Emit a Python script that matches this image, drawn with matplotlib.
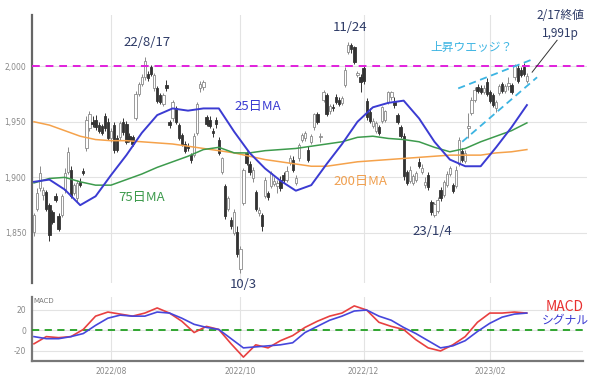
import matplotlib
matplotlib.use("Agg")
import matplotlib.pyplot as plt
import numpy as np
import pandas as pd

# Trading days (TSE), 2022/06/24 - 2023/02/17
holidays = ["2022-07-18", "2022-08-11", "2022-09-19", "2022-09-23", "2022-10-10",
            "2022-11-03", "2022-11-23", "2023-01-02", "2023-01-03", "2023-01-09"]
days = pd.bdate_range("2022-06-24", "2023-02-17")
days = days[~days.isin(pd.to_datetime(holidays))]

opens = [1851, 1872, 1890, 1884, 1887, 1875, 1869, 1883, 1865, 1866, 1889, 1905, 1907, 1886, 1881, 1896,
         1906, 1926, 1944, 1950, 1952, 1947, 1946, 1955, 1950, 1935, 1947, 1935, 1936, 1950, 1948, 1937,
         1936, 1953, 1975, 1984, 1990, 1993, 1999, 1980, 1980, 1974, 1966, 1983, 1950, 1953, 1962, 1947,
         1938, 1930, 1928, 1920, 1920, 1940, 1980, 1981, 1954, 1952, 1942, 1952, 1934, 1905, 1892, 1872,
         1862, 1850, 1851, 1818, 1877, 1922, 1912, 1899, 1887, 1868, 1866, 1883, 1886, 1892, 1894, 1892,
         1898, 1902, 1898, 1913, 1916, 1895, 1917, 1934, 1935, 1925, 1932, 1945, 1957, 1936, 1970, 1974,
         1960, 1963, 1972, 1970, 1967, 1983, 2013, 2019, 2017, 1992, 1990, 1998, 1969, 1959, 1946, 1942,
         1945, 1951, 1952, 1968, 1972, 1968, 1956, 1945, 1937, 1905, 1897, 1895, 1898, 1914, 1905, 1893,
         1902, 1878, 1866, 1870, 1889, 1884, 1893, 1903, 1893, 1892, 1912, 1924, 1915, 1944, 1958, 1970,
         1981, 1980, 1977, 1986, 1977, 1974, 1962, 1976, 1984, 1978, 1982, 1983, 1990, 1998, 1997, 1999,
         1987]
highs = [1868, 1890, 1910, 1891, 1889, 1877, 1871, 1886, 1868, 1885, 1908, 1927, 1910, 1895, 1898, 1899,
         1908, 1955, 1960, 1955, 1956, 1950, 1948, 1958, 1953, 1944, 1950, 1938, 1951, 1953, 1951, 1940,
         1938, 1978, 1986, 1993, 2008, 1996, 2001, 1994, 1982, 1976, 1976, 1988, 1952, 1970, 1964, 1949,
         1940, 1933, 1931, 1922, 1940, 1968, 1987, 1988, 1956, 1955, 1944, 1954, 1936, 1918, 1894, 1883,
         1864, 1872, 1856, 1838, 1908, 1924, 1915, 1909, 1889, 1873, 1868, 1900, 1888, 1906, 1900, 1898,
         1901, 1905, 1910, 1920, 1919, 1902, 1931, 1940, 1942, 1928, 1939, 1958, 1959, 1940, 1979, 1976,
         1966, 1966, 1975, 1972, 1973, 1999, 2022, 2021, 2018, 1996, 1993, 2000, 1971, 1962, 1953, 1951,
         1947, 1964, 1961, 1978, 1978, 1972, 1958, 1947, 1940, 1907, 1910, 1903, 1906, 1917, 1912, 1900,
         1905, 1880, 1878, 1882, 1891, 1898, 1906, 1910, 1895, 1910, 1936, 1926, 1925, 1958, 1972, 1981,
         1984, 1983, 1983, 1989, 1979, 1976, 1970, 1984, 1986, 1984, 1990, 1985, 2002, 2001, 1999, 2003,
         1994]
lows = [1847, 1870, 1888, 1880, 1870, 1843, 1858, 1878, 1852, 1864, 1886, 1903, 1881, 1884, 1878, 1891,
        1902, 1924, 1942, 1945, 1943, 1940, 1938, 1942, 1934, 1932, 1922, 1923, 1934, 1938, 1930, 1932,
        1928, 1952, 1973, 1982, 1988, 1987, 1991, 1978, 1967, 1966, 1964, 1978, 1944, 1951, 1948, 1934,
        1928, 1922, 1924, 1913, 1918, 1938, 1977, 1979, 1946, 1944, 1936, 1944, 1920, 1903, 1863, 1870,
        1854, 1848, 1828, 1814, 1875, 1911, 1902, 1896, 1870, 1865, 1852, 1881, 1880, 1890, 1892, 1886,
        1888, 1895, 1896, 1911, 1905, 1893, 1915, 1932, 1933, 1914, 1930, 1943, 1948, 1932, 1968, 1955,
        1957, 1960, 1966, 1964, 1965, 1981, 2011, 2012, 2002, 1990, 1977, 1984, 1952, 1949, 1944, 1940,
        1938, 1949, 1950, 1966, 1970, 1962, 1948, 1935, 1898, 1893, 1895, 1893, 1896, 1908, 1903, 1890,
        1889, 1866, 1864, 1868, 1879, 1882, 1891, 1901, 1886, 1890, 1910, 1914, 1913, 1935, 1956, 1968,
        1976, 1975, 1975, 1973, 1967, 1963, 1959, 1974, 1976, 1976, 1979, 1975, 1988, 1985, 1990, 1991,
        1985]
closes = [1866, 1886, 1904, 1889, 1872, 1848, 1860, 1880, 1854, 1883, 1904, 1923, 1883, 1893, 1895, 1893,
          1904, 1952, 1957, 1948, 1945, 1942, 1940, 1944, 1935, 1942, 1925, 1925, 1949, 1941, 1932, 1934,
          1930, 1975, 1984, 1990, 2005, 1989, 1993, 1992, 1969, 1968, 1974, 1980, 1947, 1968, 1950, 1935,
          1929, 1924, 1926, 1916, 1937, 1966, 1984, 1986, 1948, 1946, 1940, 1948, 1922, 1917, 1865, 1881,
          1856, 1869, 1831, 1836, 1907, 1913, 1905, 1907, 1872, 1871, 1856, 1898, 1882, 1904, 1897, 1895,
          1890, 1898, 1906, 1917, 1907, 1899, 1929, 1938, 1940, 1916, 1937, 1957, 1950, 1937, 1977, 1957,
          1964, 1962, 1968, 1966, 1971, 1997, 2019, 2015, 2004, 1994, 1986, 1987, 1954, 1951, 1951, 1949,
          1940, 1963, 1960, 1977, 1977, 1965, 1950, 1937, 1901, 1895, 1907, 1901, 1904, 1910, 1908, 1896,
          1891, 1869, 1876, 1880, 1881, 1896, 1903, 1908, 1888, 1907, 1934, 1916, 1922, 1946, 1970, 1979,
          1978, 1977, 1980, 1975, 1969, 1965, 1968, 1982, 1978, 1982, 1985, 1977, 2000, 1987, 1992, 1993,
          1991]

# moving averages, read every 5 trading days
ma_step = 5
ma25 = [1896, 1898, 1889, 1875, 1883, 1902, 1920, 1940, 1956, 1962, 1960, 1962, 1962, 1941, 1922, 1908, 1897,
        1888, 1893, 1912, 1930, 1950, 1963, 1967, 1969, 1953, 1932, 1916, 1910, 1910, 1927, 1945, 1965]
ma75 = [1895, 1899, 1900, 1896, 1893, 1893, 1898, 1903, 1909, 1914, 1919, 1925, 1927, 1922, 1922, 1924, 1925,
        1926, 1928, 1930, 1932, 1936, 1937, 1935, 1934, 1932, 1927, 1923, 1926, 1932, 1937, 1942, 1949]
ma200 = [1950, 1947, 1942, 1937, 1934, 1933, 1933, 1932, 1931, 1930, 1928, 1926, 1924, 1922, 1919, 1916, 1914,
         1912, 1910, 1910, 1912, 1914, 1915, 1916, 1917, 1918, 1919, 1920, 1920, 1920, 1922, 1923, 1925]

# MACD / signal, read every 4 trading days
macd_step = 4
macd = [-13, -6, -7, -6, 1, 14, 18, 16, 14, 17, 22, 17, 9, -2, 4, 1, -13, -26, -14, -17, -10, -5, 3, 9, 14,
        17, 24, 20, 8, 4, 1, -9, -17, -20, -14, -6, 8, 17, 17, 18, 17]
signal = [-6, -8, -8, -6, -3, 5, 12, 15, 14, 14, 18, 17, 12, 6, 3, 1, -8, -17, -16, -15, -14, -12, -2, 4, 10,
          14, 19, 20, 14, 10, 3, -3, -10, -17, -15, -10, -1, 7, 13, 16, 17]

tick_months = ["2022/08", "2022/10", "2022/12", "2023/02"]

assert len(days) == len(closes)

jp = ["Noto Sans CJK JP", "DejaVu Sans"]
plt.rcParams["font.family"] = jp

x = np.arange(len(closes))
month_str = days.strftime("%Y/%m")
tick_pos = [int(np.argmax(month_str == m)) for m in tick_months]

fig = plt.figure(figsize=(6, 3.81), dpi=100)
ax = fig.add_axes([0.0533, 0.2572, 0.925, 0.7034])
ax2 = fig.add_axes([0.0533, 0.0525, 0.918, 0.168])

grid_c = "#e3e3e3"
tick_c = "#888888"

# --- main panel
for i in x:
    o, h, l, c = opens[i], highs[i], lows[i], closes[i]
    up = c >= o
    edge = "#8a8a8a" if up else "#333333"
    face = "white" if up else "#333333"
    ax.vlines(i, l, h, color=edge, lw=0.7, zorder=3)
    ax.bar(i, max(abs(c - o), 0.8), bottom=min(o, c), width=0.75,
           facecolor=face, edgecolor=edge, lw=0.6, zorder=4)

xm = np.arange(0, len(closes), ma_step)
ax.plot(xm, ma200, color="#f5a24b", lw=1.1, zorder=5)
ax.plot(xm, ma75, color="#3d9b4d", lw=1.1, zorder=5)
ax.plot(xm, ma25, color="#3b3bd2", lw=1.4, zorder=6)

ax.axhline(2000, color="#e020dc", lw=1.4, ls=(0, (4, 3)), zorder=7)

# rising wedge
wedge_c = "#3cb4e2"
ax.plot([137.7, 161.7], [1980, 2006], color=wedge_c, lw=1.3, ls=(0, (4, 2.5)), zorder=7)
ax.plot([139, 163.3], [1932, 1990], color=wedge_c, lw=1.3, ls=(0, (4, 2.5)), zorder=7)
ax.plot([161.7, 169.8], [1994.6, 2023.3], color="#333333", lw=0.7, zorder=7)

ax.set_xlim(-0.65, 179.5)
ax.set_ylim(1805, 2046)
ax.set_yticks([1850, 1900, 1950, 2000])
ax.set_yticklabels(["1,850", "1,900", "1,950", "2,000"], family="DejaVu Sans")
ax.set_xticks(tick_pos)
ax.set_xticklabels([])
ax.tick_params(length=0, labelsize=5.5, labelcolor=tick_c, pad=4)
ax.grid(True, color=grid_c, lw=0.8, zorder=0)
for s in ["top", "right", "bottom"]:
    ax.spines[s].set_visible(False)
ax.spines["left"].set_color("#666666")
ax.spines["left"].set_linewidth(1.6)

navy = "#2d3a66"
ax.text(36.7, 2021.5, "22/8/17", color=navy, fontsize=9.5, ha="center", va="center")
ax.text(102.6, 2035, "11/24", color=navy, fontsize=9.5, ha="center", va="center")
ax.text(67.9, 1803.5, "10/3", color=navy, fontsize=9.5, ha="center", va="center")
ax.text(129.2, 1851, "23/1/4", color=navy, fontsize=9.5, ha="center", va="center")
ax.text(170.8, 2045.5, "2/17終値", color=navy, fontsize=8.5, ha="center", va="center")
ax.text(170.8, 2029.5, "1,991p", color=navy, fontsize=8.5, ha="center", va="center")
ax.text(141.9, 2017, "上昇ウエッジ？", color=wedge_c, fontsize=8.5, ha="center", va="center")
ax.text(72.7, 1964, "25日MA", color="#3b3bd2", fontsize=9.5, ha="center", va="center")
ax.text(35, 1882, "75日MA", color="#3d9b4d", fontsize=9.5, ha="center", va="center")
ax.text(105.8, 1896, "200日MA", color="#f0a050", fontsize=9.5, ha="center", va="center")

# --- MACD panel
xd = np.arange(0, len(closes), macd_step)
ax2.plot(xd, macd, color="#e84040", lw=1.2, zorder=5)
ax2.plot(xd, signal, color="#4646dc", lw=1.2, zorder=6)
ax2.axhline(0, color="#22a022", lw=1.3, ls=(0, (4, 3)), zorder=4)
ax2.set_xlim(-0.65, 178.2)
ax2.set_ylim(-29.8, 32.7)
ax2.set_yticks([-20, 0, 20])
ax2.set_yticklabels(["-20", "0", "20"], family="DejaVu Sans")
ax2.set_xticks(tick_pos)
ax2.set_xticklabels(tick_months, family="DejaVu Sans")
ax2.tick_params(length=0, labelsize=5.5, labelcolor=tick_c, pad=4)
ax2.grid(True, color=grid_c, lw=0.8, zorder=0)
for s in ["top", "right"]:
    ax2.spines[s].set_visible(False)
for s in ["left", "bottom"]:
    ax2.spines[s].set_color("#777777")
    ax2.spines[s].set_linewidth(1.6)

ax2.text(-0.3, 28.5, "MACD", color="#777777", fontsize=5, ha="left", va="center", family="DejaVu Sans")
ax2.text(172.4, 23, "MACD", color="#e83030", fontsize=10, ha="center", va="center")
ax2.text(172.6, 10, "シグナル", color="#3b3bd2", fontsize=8.5, ha="center", va="center", clip_on=False)

fig.savefig("out.png", dpi=100)
